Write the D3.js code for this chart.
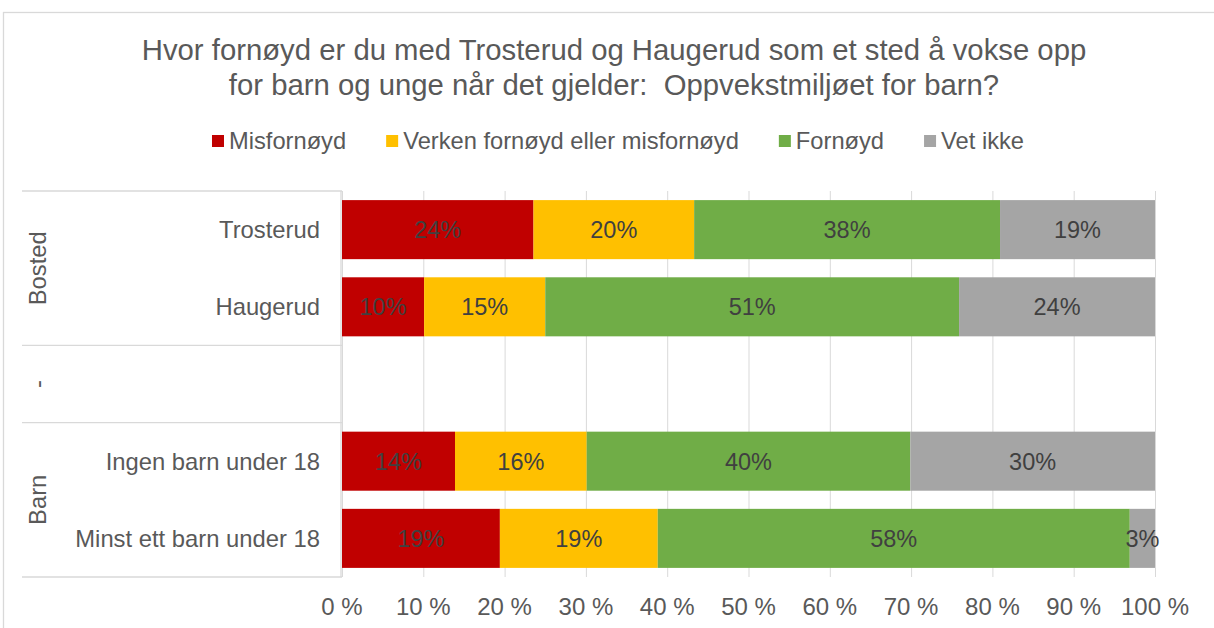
<!DOCTYPE html>
<html lang="no">
<head>
<meta charset="UTF-8">
<title>Oppvekstmiljøet for barn</title>
<script src="https://cdn.jsdelivr.net/npm/d3@7"></script>
<style>
    body { margin: 0; background: #fff; }
    svg { display: block; font-family: "Liberation Sans", Arial, sans-serif; }
    .grid line { stroke: #d9d9d9; stroke-width: 1px; }
    .grid path { display: none; }
    .tick-label { fill: #595959; font-size: 24px; }
    .cat { fill: #595959; font-size: 23.8px; }
    .sep { stroke: #d9d9d9; stroke-width: 1.3px; }
    .lbl { fill: #404040; font-size: 23.5px; }
    .title { fill: #595959; font-size: 29.3px; white-space: pre; }
</style>
</head>
<body>
<svg width="1214" height="628"></svg>
<script>
// data
const categories = ["Trosterud", "Haugerud", "", "Ingen barn under 18", "Minst ett barn under 18"];
const groups = [
    {name: "Bosted", from: 0, to: 1},
    {name: "-", from: 2, to: 2},
    {name: "Barn", from: 3, to: 4}
];
const seriesNames = ["Misfornøyd", "Verken fornøyd eller misfornøyd", "Fornøyd", "Vet ikke"];
const colors = ["#C00000", "#FFC000", "#70AD47", "#A5A5A5"];
const misfornoyd = [23.6, 10.1, null, 13.9, 19.4];
const verken     = [19.8, 14.9, null, 16.2, 19.4];
const fornoyd    = [37.7, 50.9, null, 39.8, 58.0];
const vetIkke    = [19.1, 24.1, null, 30.1, 3.1];
const xTicks = [0, 10, 20, 30, 40, 50, 60, 70, 80, 90, 100];

const titleLines = ["Hvor fornøyd er du med Trosterud og Haugerud som et sted å vokse opp",
                    "for barn og unge når det gjelder:  Oppvekstmiljøet for barn?"];

const svg = d3.select("svg");

// outer chart border
svg.append("rect")
    .attr("x", 3.5).attr("y", 12.5)
    .attr("width", 1240).attr("height", 640)
    .attr("fill", "none").attr("stroke", "#d9d9d9").attr("stroke-width", 1.3);

// title
svg.append("text")
    .attr("class", "title")
    .attr("x", 614).attr("y", 60)
    .attr("text-anchor", "middle")
    .selectAll("tspan").data(titleLines).join("tspan")
    .attr("x", 614).attr("dy", (d, i) => i ? 35 : 0)
    .text(d => d);

// scales
const x = d3.scaleLinear().domain([0, 100]).range([342, 1155]);
const y = d3.scaleBand().domain(d3.range(categories.length))
    .range([191, 577]).paddingInner(0.235).paddingOuter(0.118);

// legend
const legend = svg.append("g");
let lx = 0;
const items = legend.selectAll("g").data(seriesNames).join("g");
items.append("rect").attr("y", -14).attr("width", 12).attr("height", 12)
    .attr("fill", (d, i) => colors[i]);
items.append("text").attr("x", 17).attr("y", 0)
    .attr("fill", "#595959").style("font-size", "23.7px")
    .text(d => d);
items.each(function () {
    const w = this.getBBox().width;
    d3.select(this).attr("transform", `translate(${lx},0)`);
    lx += w + 40;
});
lx -= 40;
legend.attr("transform", `translate(${618 - lx / 2},149)`);

// gridlines + ticks
svg.append("g").attr("class", "grid")
    .attr("transform", "translate(0,577)")
    .call(d3.axisBottom(x).tickValues(xTicks).tickSize(-386).tickFormat(""));

svg.append("g").selectAll("text").data(xTicks).join("text")
    .attr("class", "tick-label")
    .attr("x", d => x(d)).attr("y", 615)
    .attr("text-anchor", "middle")
    .text(d => d + " %");

// stacked bars (100% stacked)
const rows = categories.map((c, i) => ({
    cat: c, vals: [misfornoyd[i], verken[i], fornoyd[i], vetIkke[i]]
}));
const segs = [];
rows.forEach((r, i) => {
    if (r.vals[0] == null) return;
    const total = d3.sum(r.vals);
    let acc = 0;
    r.vals.forEach((v, k) => {
        segs.push({row: i, k: k, v: v, x0: acc / total * 100, x1: (acc + v) / total * 100});
        acc += v;
    });
});

svg.append("g").selectAll("rect").data(segs).join("rect")
    .attr("x", d => x(d.x0)).attr("width", d => x(d.x1) - x(d.x0))
    .attr("y", d => y(d.row)).attr("height", y.bandwidth())
    .attr("fill", d => colors[d.k]);

svg.append("g").selectAll("text").data(segs).join("text")
    .attr("class", "lbl")
    .attr("x", d => (x(d.x0) + x(d.x1)) / 2)
    .attr("y", d => y(d.row) + y.bandwidth() / 2)
    .attr("dy", "0.36em")
    .attr("text-anchor", "middle")
    .text(d => Math.round(d.v) + "%");

// category labels
svg.append("g").selectAll("text").data(categories).join("text")
    .attr("class", "cat")
    .attr("x", 320)
    .attr("y", (d, i) => y(i) + y.bandwidth() / 2)
    .attr("dy", "0.36em")
    .attr("text-anchor", "end")
    .text(d => d);

// group separators and labels
const bandTop = i => y(i) - y.step() * y.paddingInner() / 2;
const bandBot = i => y(i) + y.bandwidth() + y.step() * y.paddingInner() / 2;
const sepY = [191, ...groups.slice(1).map(g => bandTop(g.from)), 577];
svg.append("g").selectAll("line").data(sepY).join("line")
    .attr("class", "sep")
    .attr("x1", 22).attr("x2", 342)
    .attr("y1", d => d).attr("y2", d => d);

svg.append("line").attr("class", "sep")
    .attr("x1", 341).attr("x2", 341).attr("y1", 191).attr("y2", 577);

svg.append("g").selectAll("text").data(groups).join("text")
    .attr("class", "cat")
    .attr("text-anchor", "middle")
    .attr("transform", g => {
        const cy = (Math.max(191, bandTop(g.from)) + Math.min(577, bandBot(g.to))) / 2;
        return `translate(46,${cy}) rotate(-90)`;
    })
    .text(g => g.name);
</script>
</body>
</html>
